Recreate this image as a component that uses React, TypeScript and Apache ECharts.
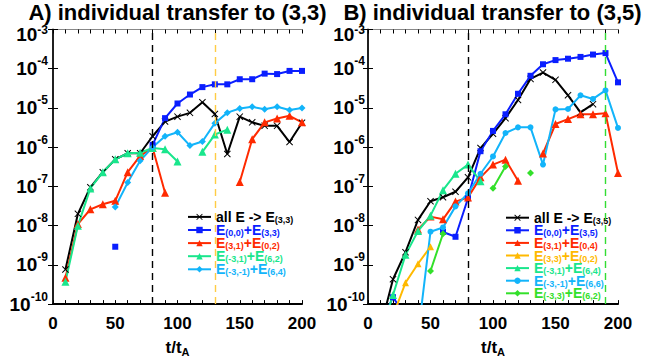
import React, { useEffect, useRef } from 'react';
import * as echarts from 'echarts';

const FONT = '"Liberation Sans", Arial, sans-serif';

// time axis (t / t_A)
const T = [10, 20, 30, 40, 50, 60, 70, 80, 90, 100, 110, 120, 130, 140, 150, 160, 170, 180, 190, 200];
const X_TICKS_LABELED = [0, 50, 100, 150, 200];

// Panel A: transfer to (3,3)
const A_ALL = [7.6e-10, 2e-8, 9.5e-8, 2.3e-7, 4.9e-7, 7e-7, 7e-7, 1.9e-6, 4.5e-6, 6e-6, 7.5e-6, 1.4e-5, 7e-6, 6.7e-7, 6e-6, 4.3e-6, 3.5e-6, 3.5e-6, 1.35e-6, 4.2e-6];
const A_00_33 = [null, null, null, null, 2.9e-9, null, null, 1.15e-6, 5.5e-6, 1.3e-5, 2.2e-5, 3.4e-5, 4e-5, 4e-5, 5.4e-5, 5.4e-5, 7.5e-5, 7.3e-5, 8.8e-5, 8.8e-5];
const A_31_02 = [4.7e-10, 1.1e-8, 2.6e-8, 3.5e-8, 4.3e-8, 2.3e-7, 6e-7, 9.7e-7, 6.9e-8, null, null, null, null, null, 1.3e-7, 1.6e-6, 4.3e-6, 5.4e-6, 6.3e-6, 4.3e-6];
const A_m31_62 = [3.7e-10, 1e-8, 8.9e-8, 2.3e-7, 4.9e-7, 7e-7, 7.2e-7, 9.5e-7, 8.9e-7, 4.3e-7, null, 7.6e-7, 2.1e-6, 2.8e-6, null, null, null, null, null, null];
const A_m3m1_64 = [null, null, null, null, 3e-8, 1.25e-7, 4.5e-7, 1e-6, 1.9e-6, 2.4e-6, 1.1e-6, 1.4e-6, 4.1e-6, 7.6e-6, 9.7e-6, 1.07e-5, 9.3e-6, 1.07e-5, 8.9e-6, 1e-5];
const A_VLINES = [80, 130];

// Panel B: transfer to (3,5)
const B_ALL = [2.5e-11, 4.3e-10, 2.1e-9, 1.4e-8, 4.2e-8, 5.3e-8, 7.3e-8, 1.7e-7, 9.5e-7, 2.2e-6, 5.5e-6, 1.6e-5, 5.5e-5, 8e-5, 5.2e-5, 2.1e-5, 7.7e-6, 1.25e-5, null, null];
const B_00_35 = [3e-11, 1.5e-10, 5e-11, null, null, 6.9e-9, 5.2e-9, 5e-8, 7.9e-7, 2.6e-6, 6.9e-6, 2.3e-5, 6.6e-5, 1.3e-4, 1.66e-4, 1.8e-4, 2e-4, 2.3e-4, 2.5e-4, 4.5e-5];
const B_31_04 = [null, null, null, 8e-9, 1.7e-8, 1.45e-8, 4.1e-8, 5.2e-8, 1.7e-7, 3.6e-7, 4.8e-7, 1.4e-7, null, 6.9e-7, 3.9e-6, 5.2e-6, 6.9e-6, 6.9e-6, 7.3e-6, 2.2e-7];
const B_33_02 = [null, 5e-11, 3.5e-10, 1.07e-9, 2.9e-9, null, null, null, null, null, null, null, null, null, null, null, null, null, null, null];
const B_m31_64 = [1.7e-11, 1.7e-10, 1.8e-9, 7.3e-9, 1.8e-8, 8e-8, 2.1e-7, 3.6e-7, 1.35e-7, null, null, null, null, null, null, null, null, null, null, null];
const B_m3m1_66 = [null, null, null, 1.6e-11, 7e-9, 9e-9, 3.1e-8, 6.7e-8, 2.1e-7, 5.8e-7, 2.3e-6, 3.2e-6, 3.2e-6, 3.6e-7, 9.2e-6, 9.4e-6, 2.1e-5, 1.7e-5, 2.8e-5, 3.1e-6];
const B_m33_62 = [null, null, null, null, 7e-10, 6.2e-9, null, null, null, 9e-8, 3.2e-7, null, 2.2e-7, null, null, null, null, null, null, null];
const B_VLINES = [80, 190];

const C_BLACK = '#000000';
const C_BLUE = '#0a1eff';
const C_RED = '#ff2a00';
const C_TEAL = '#19e68c';
const C_LBLUE = '#12b4fa';
const C_YELLOW = '#ffb900';
const C_GREEN = '#33e02a';
const C_VYELLOW = '#ffcc44';
const C_VGREEN = '#33dd33';

const X_SYM = 'path://M1,0L5,4L9,0L10,1L6,5L10,9L9,10L5,6L1,10L0,9L4,5L0,1Z';

function mk(name: string, vals: (number | null)[], color: string, symbol: string, size: number, idx: number, marks?: any) {
  const s: any = {
    type: 'line',
    name,
    xAxisIndex: idx * 2,
    yAxisIndex: idx * 2,
    data: T.map((t, i) => [t, vals[i]]),
    symbol,
    symbolSize: size,
    showAllSymbol: true,
    connectNulls: false,
    lineStyle: { color, width: 2 },
    itemStyle: { color },
    emphasis: { disabled: true },
    z: 3,
  };
  if (marks) s.markLine = marks;
  return s;
}

function vlines(xs: number[], colors: string[]) {
  return {
    silent: true,
    symbol: ['none', 'none'],
    label: { show: false },
    animation: false,
    data: xs.map((x, i) => ({ xAxis: x, lineStyle: { color: colors[i], type: [7, 5], width: 1.4 } })),
  };
}

function richName(name: string) {
  return name
    .split(/(\([^)]*\))/)
    .filter((p) => p.length > 0)
    .map((p) => (p.startsWith('(') ? `{s|${p}}` : `{n|${p}}`))
    .join('');
}

const LEG_RICH = {
  n: { fontSize: 14, fontWeight: 'bold', fontFamily: FONT, lineHeight: 13 },
  s: { fontSize: 9, fontWeight: 'bold', fontFamily: FONT, lineHeight: 8, padding: [6, 0, 0, 0] },
};

function xAxes(gridIndex: number) {
  return [
    {
      type: 'value', gridIndex, min: 0, max: 200, interval: 10, position: 'bottom',
      axisLine: { show: true, lineStyle: { color: '#000', width: 2 } },
      axisTick: { show: true, inside: true, length: 4, lineStyle: { color: '#000', width: 1 } },
      splitLine: { show: false },
      axisLabel: {
        show: true, margin: 11, showMinLabel: true, showMaxLabel: true,
        fontSize: 17, fontWeight: 'bold', fontFamily: FONT, color: '#000',
        formatter: (v: number) => (X_TICKS_LABELED.includes(v) ? String(v) : ''),
      },
      name: '{a|t/t}{s|A}', nameLocation: 'middle', nameGap: 26,
      nameTextStyle: {
        rich: {
          a: { fontSize: 17, fontWeight: 'bold', fontFamily: FONT, color: '#000', lineHeight: 17 },
          s: { fontSize: 11, fontWeight: 'bold', fontFamily: FONT, color: '#000', lineHeight: 11, padding: [9, 0, 0, 0] },
        },
      },
    },
    {
      type: 'value', gridIndex, min: 0, max: 200, interval: 10, position: 'top',
      axisLine: { show: true, lineStyle: { color: '#888', width: 1 } },
      axisTick: { show: true, inside: true, length: 4, lineStyle: { color: '#000', width: 1 } },
      splitLine: { show: false },
      axisLabel: { show: false },
    },
  ];
}

const Y_RICH = {
  b: { fontSize: 19, fontWeight: 'bold', fontFamily: FONT, color: '#000', lineHeight: 19 },
  e: { fontSize: 12, fontWeight: 'bold', fontFamily: FONT, color: '#000', lineHeight: 12, padding: [0, 0, 15, 0] },
  bt: { fontSize: 19, fontWeight: 'bold', fontFamily: FONT, color: '#000', lineHeight: 19, padding: [9, 0, 0, 0] },
  et: { fontSize: 12, fontWeight: 'bold', fontFamily: FONT, color: '#000', lineHeight: 12 },
};

function yAxes(gridIndex: number, margin: number) {
  return [
    {
      type: 'log', gridIndex, logBase: 10, min: 1e-10, max: 1e-3, position: 'left',
      axisLine: { show: true, lineStyle: { color: '#808080', width: 2 } },
      axisTick: { show: true, inside: true, length: 5, lineStyle: { color: '#000', width: 1 } },
      minorTick: { show: false },
      splitLine: { show: false },
      axisLabel: {
        show: true, margin, showMinLabel: true, showMaxLabel: true,
        formatter: (v: number) => {
          const e = Math.round(Math.log10(v));
          return e === -3 ? `{bt|10}{et|${e}}` : `{b|10}{e|${e}}`;
        },
        rich: Y_RICH,
      },
    },
    {
      type: 'log', gridIndex, logBase: 10, min: 1e-10, max: 1e-3, position: 'right',
      axisLine: { show: true, lineStyle: { color: '#000', width: 1.5 } },
      axisTick: { show: true, inside: true, length: 5, lineStyle: { color: '#000', width: 1 } },
      splitLine: { show: false },
      axisLabel: { show: false },
    },
  ];
}

const A_NAMES = ['all E -> E(3,3)', 'E(0,0)+E(3,3)', 'E(3,1)+E(0,2)', 'E(-3,1)+E(6,2)', 'E(-3,-1)+E(6,4)'];
const A_COLORS = [C_BLACK, C_BLUE, C_RED, C_TEAL, C_LBLUE];
const B_NAMES = ['all E -> E(3,5)', 'E(0,0)+E(3,5)', 'E(3,1)+E(0,4)', 'E(3,3)+E(0,2)', 'E(-3,1)+E(6,4)', 'E(-3,-1)+E(6,6)', 'E(-3,3)+E(6,2)'];
const B_COLORS = [C_BLACK, C_BLUE, C_RED, C_YELLOW, C_TEAL, C_LBLUE, C_GREEN];

function legend(names: string[], colors: string[], left: number, top: number, gap: number) {
  return {
    orient: 'vertical', left, top, padding: 0, itemGap: gap, itemWidth: 23, itemHeight: 8,
    selectedMode: false,
    data: names.map((n, i) => ({ name: n, textStyle: { color: colors[i] } })),
    formatter: (n: string) => richName(n),
    textStyle: { fontFamily: FONT, fontWeight: 'bold', fontSize: 14, rich: LEG_RICH },
  };
}

export default function App() {
  const ref = useRef<HTMLDivElement>(null);
  useEffect(() => {
    const chart = echarts.init(ref.current!, null, { renderer: 'svg' });
    const option: any = {
      animation: false,
      backgroundColor: '#fff',
      grid: [
        { left: 53, top: 29.5, width: 249, height: 279.5, containLabel: false },
        { left: 368, top: 29.5, width: 250, height: 279.5, containLabel: false },
      ],
      xAxis: [...xAxes(0), ...xAxes(1)],
      yAxis: [...yAxes(0, 5), ...yAxes(1, 3)],
      legend: [
        legend(A_NAMES, A_COLORS, 187, 209.4, -1.9),
        legend(B_NAMES, B_COLORS, 505, 210.2, -2.4),
      ],
      graphic: [
        { type: 'text', x: 177.5, y: 12.5, style: { text: 'A) individual transfer to (3,3)', fontSize: 22, fontWeight: 'bold', fontFamily: FONT, fill: '#000', align: 'center', verticalAlign: 'middle', textAlign: 'center', textVerticalAlign: 'middle' } },
        { type: 'text', x: 492.5, y: 12.5, style: { text: 'B) individual transfer to (3,5)', fontSize: 22, fontWeight: 'bold', fontFamily: FONT, fill: '#000', align: 'center', verticalAlign: 'middle', textAlign: 'center', textVerticalAlign: 'middle' } },
      ],
      series: [
        mk(A_NAMES[0], A_ALL, C_BLACK, X_SYM, 7, 0, vlines(A_VLINES, [C_BLACK, C_VYELLOW])),
        mk(A_NAMES[1], A_00_33, C_BLUE, 'rect', 6, 0),
        mk(A_NAMES[2], A_31_02, C_RED, 'triangle', 8, 0),
        mk(A_NAMES[3], A_m31_62, C_TEAL, 'triangle', 8, 0),
        mk(A_NAMES[4], A_m3m1_64, C_LBLUE, 'diamond', 7, 0),
        mk(B_NAMES[0], B_ALL, C_BLACK, X_SYM, 7, 1, vlines(B_VLINES, [C_BLACK, C_VGREEN])),
        mk(B_NAMES[1], B_00_35, C_BLUE, 'rect', 6, 1),
        mk(B_NAMES[2], B_31_04, C_RED, 'triangle', 8, 1),
        mk(B_NAMES[3], B_33_02, C_YELLOW, 'triangle', 7, 1),
        mk(B_NAMES[4], B_m31_64, C_TEAL, 'triangle', 8, 1),
        mk(B_NAMES[5], B_m3m1_66, C_LBLUE, 'circle', 6, 1),
        mk(B_NAMES[6], B_m33_62, C_GREEN, 'diamond', 7, 1),
      ],
    };
    chart.setOption(option);
    return () => chart.dispose();
  }, []);
  return <div ref={ref} style={{ position: 'absolute', left: 0, top: 0, width: 669, height: 362 }} />;
}
